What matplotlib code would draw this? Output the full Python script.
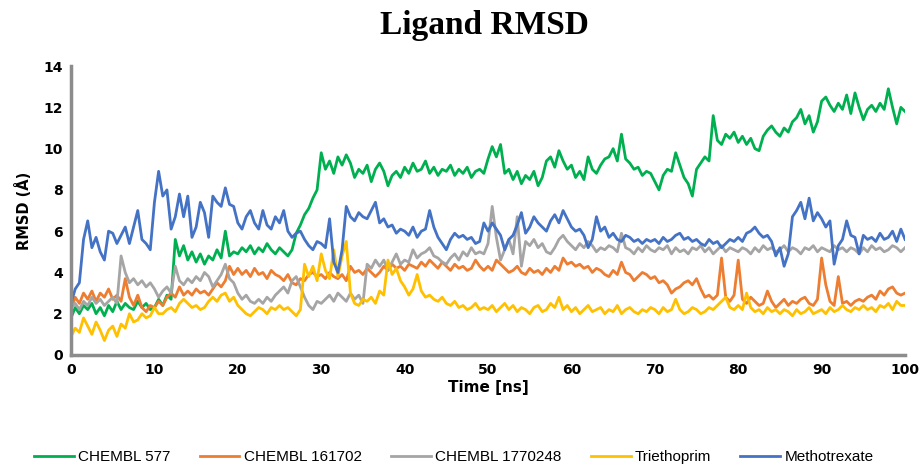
import numpy as np
import matplotlib
matplotlib.use("Agg")
import matplotlib.pyplot as plt

# time axis: one sample every 0.5 ns
time_ns = np.arange(0, 100.5, 0.5)

chembl_577 = [
    1.8, 2.3, 2.0, 2.4, 2.2, 2.5, 2.0, 2.3, 1.9, 2.4, 2.1, 2.6, 2.2, 2.5, 2.3, 2.2, 2.6, 2.3, 2.5, 2.2,
    2.3, 2.7, 2.4, 2.9, 2.7, 5.6, 4.8, 5.3, 4.6, 5.0, 4.5, 4.9, 4.4, 4.8, 4.6, 5.1, 4.7, 6.0, 4.8, 5.0,
    4.9, 5.2, 5.0, 5.3, 4.9, 5.2, 5.0, 5.4, 5.1, 4.9, 5.2, 5.0, 4.8, 5.1, 5.9, 6.3, 6.8, 7.1, 7.6, 8.0,
    9.8, 9.0, 9.4, 8.8, 9.6, 9.2, 9.7, 9.3, 8.6, 9.0, 8.8, 9.2, 8.4, 9.0, 9.3, 8.9, 8.2, 8.7, 8.9, 8.6,
    9.1, 8.8, 9.3, 8.9, 9.0, 9.4, 8.8, 9.1, 8.7, 9.0, 8.9, 9.2, 8.7, 9.0, 8.8, 9.1, 8.6, 8.9, 9.0, 8.8,
    9.5, 10.1, 9.6, 10.2, 8.8, 9.0, 8.5, 8.9, 8.3, 8.7, 8.5, 8.9, 8.2, 8.6, 9.4, 9.6, 9.1, 9.9, 9.4, 9.0,
    9.2, 8.6, 8.9, 8.5, 9.6, 9.0, 8.8, 9.2, 9.5, 9.6, 10.0, 9.4, 10.7, 9.5, 9.3, 9.0, 9.1, 8.7, 8.9, 8.8,
    8.4, 8.0, 8.7, 9.0, 8.9, 9.8, 9.2, 8.6, 8.3, 7.7, 9.0, 9.3, 9.6, 9.4, 11.6, 10.4, 10.2, 10.7, 10.5, 10.8,
    10.3, 10.6, 10.2, 10.5, 10.0, 9.9, 10.6, 10.9, 11.1, 10.8, 10.6, 11.0, 10.8, 11.3, 11.5, 11.9, 11.2, 11.6, 10.8, 11.3,
    12.3, 12.5, 12.1, 11.8, 12.2, 11.9, 12.6, 11.7, 12.7, 12.0, 11.4, 11.9, 12.1, 11.8, 12.2, 11.9, 12.9, 12.0, 11.2, 12.0,
    11.8]

chembl_161702 = [
    2.2, 2.8, 2.5, 3.0, 2.7, 3.1, 2.6, 3.0, 2.8, 3.2, 2.7, 2.9, 2.6, 3.7, 2.8, 2.4, 2.9, 2.3, 2.1, 2.4,
    2.3, 2.6, 2.4, 2.8, 3.0, 2.8, 3.3, 2.9, 3.1, 2.9, 3.2, 3.0, 3.1, 2.9, 3.2, 3.5, 3.3, 3.6, 4.3, 3.9,
    4.2, 3.9, 4.1, 3.8, 4.2, 3.9, 4.0, 3.7, 4.1, 3.9, 3.8, 3.6, 3.9, 3.5, 3.4, 3.7, 3.6, 3.9, 4.0, 3.8,
    3.9, 3.7, 4.0, 3.8, 3.7, 3.9, 3.6, 4.3, 4.0, 4.1, 3.9, 4.2, 4.0, 3.8, 4.0, 4.3, 4.1, 4.4, 4.2, 4.3,
    4.1, 4.4, 4.3, 4.2, 4.5, 4.3, 4.6, 4.4, 4.2, 4.5, 4.3, 4.1, 4.4, 4.2, 4.3, 4.1, 4.2, 4.6, 4.3, 4.1,
    4.3, 4.1, 4.6, 4.4, 4.2, 4.0, 4.1, 4.3, 4.0, 3.9, 4.2, 4.0, 4.1, 3.9, 4.2, 4.0, 4.3, 4.1, 4.7, 4.4,
    4.5, 4.3, 4.4, 4.2, 4.3, 4.0, 4.2, 4.1, 3.9, 3.8, 4.1, 3.9, 4.5, 4.0, 3.9, 3.6, 3.8, 4.0, 3.9, 3.7,
    3.8, 3.5, 3.6, 3.4, 3.0, 3.2, 3.3, 3.5, 3.6, 3.4, 3.7, 3.2, 2.8, 2.9, 2.7, 2.9, 4.7, 2.8, 2.6, 2.9,
    4.6, 2.7, 2.5, 2.8, 2.6, 2.4, 2.5, 3.1, 2.6, 2.3, 2.5, 2.7, 2.4, 2.6, 2.5, 2.7, 2.8, 2.5, 2.4, 2.7,
    4.7, 3.4, 2.6, 2.4, 3.8, 2.5, 2.6, 2.4, 2.6, 2.7, 2.6, 2.8, 2.9, 2.7, 3.1, 2.9, 3.2, 3.3, 3.0, 2.9,
    3.0]

chembl_1770248 = [
    2.3, 2.5, 2.2, 2.6, 2.4, 2.8, 2.5, 2.7, 2.4, 2.6, 2.8, 2.5, 4.8, 4.0, 3.5, 3.7, 3.4, 3.6, 3.3, 3.5,
    3.2, 2.8, 3.1, 3.3, 3.0, 4.3, 3.6, 3.4, 3.7, 3.5, 3.8, 3.6, 4.0, 3.8, 3.3, 3.6, 3.9, 4.4, 3.7, 3.5,
    3.0, 2.7, 2.9, 2.6, 2.5, 2.7, 2.5, 2.8, 2.6, 2.9, 3.1, 3.3, 3.0, 3.6, 3.8, 3.3, 2.8, 2.4, 2.2, 2.6,
    2.5, 2.7, 2.9, 2.6, 3.0, 2.8, 2.6, 3.0, 2.7, 2.9, 2.5, 4.4, 4.2, 4.6, 4.3, 4.6, 4.1, 4.5, 4.9, 4.4,
    4.6, 4.5, 5.1, 4.7, 4.9, 5.0, 5.2, 4.8, 4.7, 4.5, 4.4, 4.7, 4.9, 4.6, 5.0, 4.8, 5.2, 4.9, 5.0, 4.9,
    5.4, 7.2, 5.7, 4.6, 5.1, 5.6, 4.9, 6.7, 4.3, 5.5, 5.3, 5.6, 5.2, 5.4, 5.0, 4.9, 5.2, 5.6, 5.8, 5.5,
    5.3, 5.1, 5.4, 5.2, 5.5, 5.3, 5.0, 5.2, 5.1, 5.3, 5.2, 5.0, 5.9, 5.2, 5.1, 4.9, 5.2, 5.0, 5.3, 5.1,
    5.0, 5.2, 5.1, 5.3, 4.9, 5.2, 5.0, 5.1, 4.9, 5.2, 5.1, 5.3, 5.0, 5.2, 4.9, 5.1, 5.3, 5.0, 5.2, 5.1,
    5.0, 5.2, 5.1, 4.9, 5.2, 5.0, 5.3, 5.1, 5.2, 5.0, 5.1, 5.3, 5.0, 5.2, 5.1, 4.9, 5.2, 5.1, 5.3, 5.0,
    5.2, 5.1, 5.0, 5.3, 5.1, 5.2, 5.0, 5.2, 5.1, 4.9, 5.2, 5.0, 5.3, 5.1, 5.2, 5.0, 5.1, 5.3, 5.2, 5.0,
    5.2]

triethoprim = [
    0.9, 1.3, 1.1, 1.8, 1.4, 1.0, 1.6, 1.2, 0.7, 1.2, 1.4, 0.9, 1.5, 1.3, 2.0, 1.6, 1.7, 2.0, 1.8, 1.9,
    2.3, 2.0, 2.0, 2.2, 2.3, 2.1, 2.5, 2.7, 2.5, 2.3, 2.4, 2.2, 2.3, 2.6, 2.8, 2.6, 2.9, 3.0, 2.6, 2.8,
    2.4, 2.2, 2.0, 1.9, 2.1, 2.3, 2.2, 2.0, 2.3, 2.2, 2.4, 2.2, 2.3, 2.1, 1.9, 2.2, 4.4, 3.8, 4.3, 3.6,
    4.9, 4.1, 3.7, 5.1, 3.8, 4.8, 5.5, 3.0, 2.5, 2.4, 2.7, 2.6, 2.8, 2.5, 3.1, 2.9, 4.6, 3.9, 4.2, 3.6,
    3.3, 2.9, 3.2, 3.9, 3.1, 2.8, 2.9, 2.7, 2.6, 2.8, 2.5, 2.4, 2.6, 2.3, 2.4, 2.2, 2.3, 2.5, 2.2, 2.3,
    2.2, 2.4, 2.1, 2.3, 2.5, 2.2, 2.4, 2.1, 2.3, 2.2, 2.0, 2.3, 2.4, 2.1, 2.2, 2.5, 2.3, 2.8, 2.2, 2.4,
    2.1, 2.3, 2.0, 2.2, 2.4, 2.1, 2.2, 2.3, 2.0, 2.2, 2.1, 2.4, 2.0, 2.2, 2.3, 2.1, 2.0, 2.2, 2.1, 2.3,
    2.2, 2.0, 2.3, 2.1, 2.2, 2.7, 2.2, 2.0, 2.1, 2.3, 2.2, 2.0, 2.1, 2.3, 2.2, 2.4, 2.6, 2.8, 2.3, 2.2,
    2.4, 2.2, 3.0, 2.3, 2.1, 2.2, 2.0, 2.3, 2.1, 2.2, 2.0, 2.2, 2.1, 1.9, 2.2, 2.0, 2.1, 2.3, 2.0, 2.1,
    2.2, 2.0, 2.3, 2.1, 2.2, 2.4, 2.2, 2.1, 2.3, 2.2, 2.4, 2.2, 2.3, 2.1, 2.4, 2.3, 2.5, 2.2, 2.6, 2.4,
    2.4]

methotrexate = [
    2.5, 3.2, 3.5, 5.6, 6.5, 5.2, 5.7, 5.0, 4.6, 6.0, 5.9, 5.4, 5.8, 6.2, 5.4, 6.2, 7.0, 5.6, 5.4, 5.1,
    7.4, 8.9, 7.7, 8.0, 6.1, 6.7, 7.8, 6.7, 7.7, 5.7, 6.2, 7.4, 6.9, 5.7, 7.7, 7.4, 7.2, 8.1, 7.3, 7.2,
    6.4, 6.1, 6.7, 7.0, 6.4, 6.1, 7.0, 6.3, 6.1, 6.7, 6.4, 7.0, 6.0, 5.7, 5.9, 6.0, 5.6, 5.3, 5.1, 5.5,
    5.4, 5.2, 6.6, 4.5, 4.0, 5.1, 7.2, 6.7, 6.5, 6.9, 6.7, 6.6, 7.0, 7.4, 6.4, 6.6, 6.2, 6.3, 5.9, 6.1,
    6.0, 5.8, 6.2, 5.7, 6.0, 6.1, 7.0, 6.2, 5.7, 5.4, 5.1, 5.6, 5.9, 5.7, 5.8, 5.6, 5.7, 5.4, 5.5, 6.4,
    6.0, 6.4, 6.1, 5.8, 5.1, 5.6, 5.8, 6.3, 6.9, 5.9, 6.2, 6.7, 6.4, 6.2, 6.0, 6.5, 6.8, 6.4, 7.0, 6.6,
    6.2, 6.0, 6.1, 5.8, 5.2, 5.6, 6.7, 6.0, 6.2, 5.7, 5.9, 5.6, 5.5, 5.8, 5.7, 5.5, 5.6, 5.4, 5.6, 5.5,
    5.6, 5.4, 5.7, 5.5, 5.6, 5.8, 5.9, 5.6, 5.7, 5.5, 5.6, 5.4, 5.3, 5.6, 5.4, 5.5, 5.2, 5.4, 5.6, 5.5,
    5.7, 5.5, 5.9, 6.0, 6.2, 5.9, 5.7, 5.8, 5.5, 4.8, 5.2, 4.3, 4.9, 6.7, 7.0, 7.4, 6.6, 7.6, 6.5, 6.9,
    6.6, 6.2, 6.5, 4.4, 5.3, 5.6, 6.5, 5.8, 5.7, 4.9, 5.8, 5.6, 5.7, 5.5, 5.9, 5.6, 5.7, 6.0, 5.5, 6.1,
    5.6]

series_names = ["CHEMBL 577", "CHEMBL 161702", "CHEMBL 1770248", "Triethoprim", "Methotrexate"]
series_colors = ["#00B050", "#ED7D31", "#A5A5A5", "#FFC000", "#4472C4"]


def main():
    fig = plt.figure(figsize=(9.19, 4.66), dpi=100)
    ax = fig.add_axes([0.0773, 0.2382, 0.9075, 0.620])

    all_series = [chembl_577, chembl_161702, chembl_1770248, triethoprim, methotrexate]
    for vals, name, col in zip(all_series, series_names, series_colors):
        ax.plot(time_ns, vals, color=col, linewidth=2.0, label=name)

    ax.set_xlim(0, 100)
    ax.set_ylim(0, 14)
    ax.set_xticks(np.arange(0, 101, 10))
    ax.set_yticks(np.arange(0, 15, 2))
    ax.tick_params(axis='both', length=0, labelsize=10, pad=6)
    for lbl in ax.get_xticklabels() + ax.get_yticklabels():
        lbl.set_fontweight('bold')

    for side in ['top', 'right']:
        ax.spines[side].set_visible(False)
    for side in ['left', 'bottom']:
        ax.spines[side].set_color('#8C8C8C')
        ax.spines[side].set_linewidth(2.5)

    ax.set_xlabel('Time [ns]', fontsize=11, fontweight='bold', labelpad=2)
    ax.set_ylabel('RMSD (Å)', fontsize=10.5, fontweight='bold', labelpad=8)

    fig.text(0.527, 0.945, 'Ligand RMSD', ha='center', va='center',
             fontsize=24, fontweight='bold', family='Liberation Serif')

    fig.legend(loc='lower center', bbox_to_anchor=(0.494, -0.025), ncol=5,
               frameon=False, handlelength=2.6, handletextpad=0.3,
               columnspacing=1.9,
               prop={'family': 'Liberation Sans', 'size': 11})

    fig.savefig('out.png', dpi=100)
    plt.close(fig)


if __name__ == '__main__':
    main()
